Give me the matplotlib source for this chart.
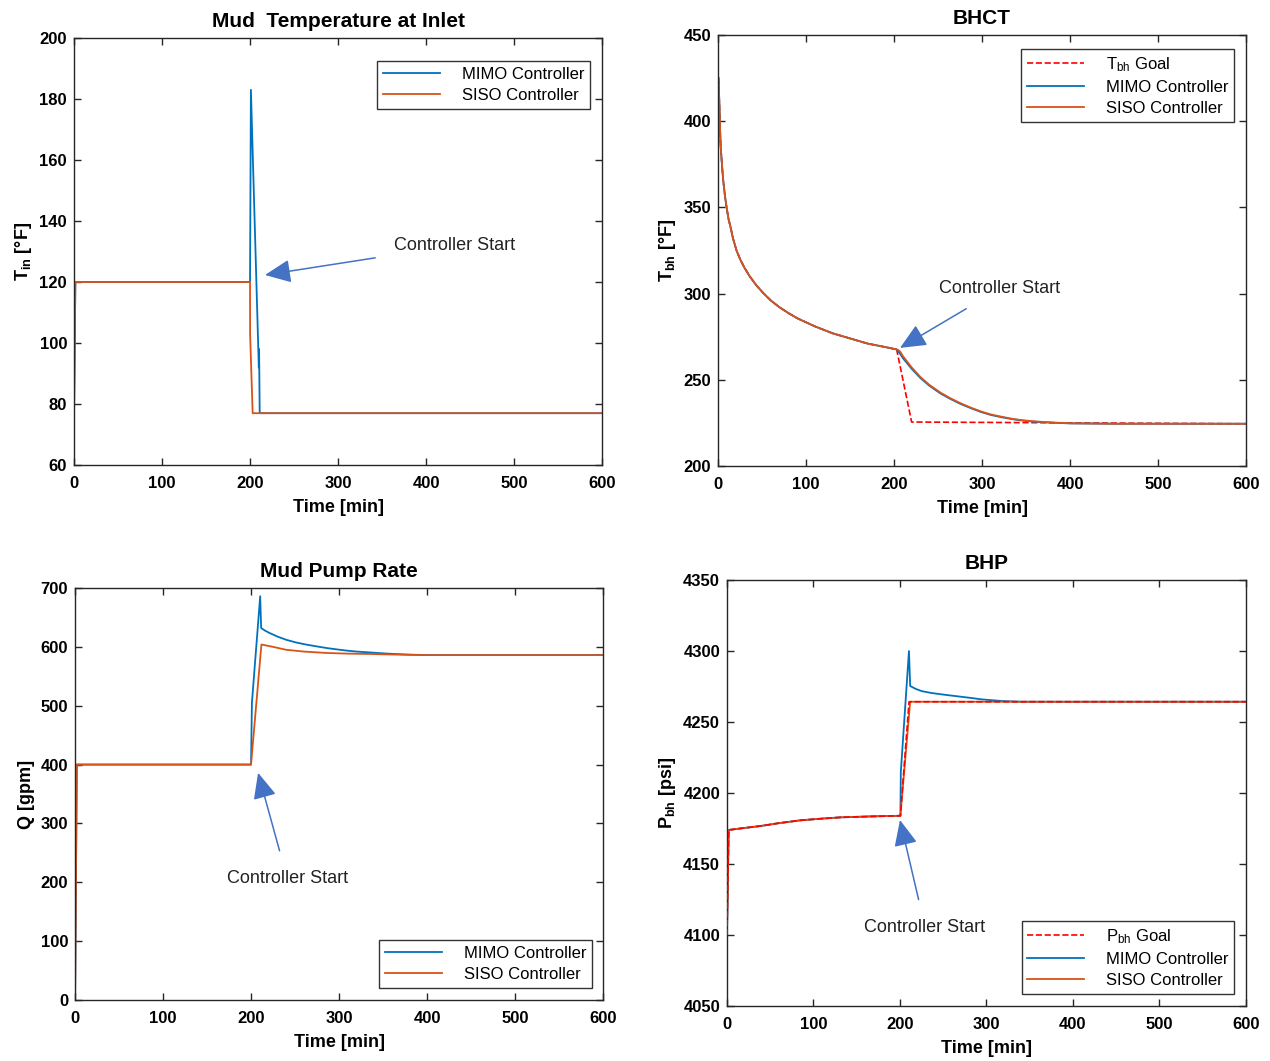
import numpy as np
import matplotlib
matplotlib.use('Agg')
import matplotlib.pyplot as plt

plt.rcParams['font.family'] = ['Liberation Sans', 'DejaVu Sans']
plt.rcParams['mathtext.fontset'] = 'custom'
plt.rcParams['mathtext.rm'] = 'Liberation Sans'
plt.rcParams['mathtext.bf'] = 'Liberation Sans:bold'
plt.rcParams['mathtext.it'] = 'Liberation Sans:italic'

BLUE = '#0072BD'
ORANGE = '#D95319'
ARROW = '#4472C4'

# Mud temperature at inlet [F]
tin_t_siso = [0, 1.5, 200, 200.1, 203, 600]
tin_siso = [77, 120, 120, 103, 77, 77]
tin_t_mimo = [0, 1.5, 200, 201, 210, 210.3, 211, 600]
tin_mimo = [77, 120, 120, 183, 92, 98, 77, 77]

# BHCT [F]
bhct_t_pre = [0.5, 1, 1.5, 2, 2.5, 3, 4, 5, 6, 8, 10, 12, 14, 17, 21, 25, 30, 36, 44, 52,
              60, 70, 80, 90, 110, 130, 150, 170, 190, 203]
bhct_pre = [425, 418, 410, 401, 392, 385, 378, 371, 365, 356, 349, 343, 339, 332, 325, 320,
            315, 310, 304.5, 300, 296, 292, 288.7, 285.7, 281, 277, 274, 271, 269, 267.6]
bhct_t_post = [205, 207, 210, 215, 220, 230, 240, 253, 264, 276, 288, 299, 310, 322, 334,
               345, 357, 368, 385, 400, 450, 600]
bhct_mimo_post = [266.4, 265.0, 262.6, 259.5, 256.4, 251.0, 246.6, 242.0, 238.9, 235.9,
                  233.4, 231.3, 229.6, 228.3, 227.2, 226.4, 225.8, 225.4, 225.0, 224.7,
                  224.5, 224.5]
bhct_siso_post = [267.2, 266.3, 263.8, 260.5, 257.2, 251.6, 247.1, 242.5, 239.3, 236.3,
                  233.7, 231.6, 229.9, 228.6, 227.4, 226.6, 226.0, 225.6, 225.1, 224.8,
                  224.5, 224.5]
goal_t_post = [203, 220, 600]
goal_post = [267.6, 225.5, 224.5]

# Mud pump rate [gpm]
q_t_siso = [0, 2, 200, 211.8, 225, 240, 260, 286, 310, 332, 360, 400, 600]
q_siso = [0, 400, 400, 604, 600, 595, 592, 589.6, 588.5, 588, 587, 586, 586]
q_t_mimo = [0, 2, 200, 201, 210.4, 211.5, 216, 221, 230, 240, 251, 263, 275, 286, 298, 309,
            320, 332, 355, 379, 400, 600]
q_mimo = [0, 400, 400, 505, 686, 632, 627.5, 623.6, 617.5, 612, 607.5, 603.8, 600.7, 598,
          595.6, 593.6, 592, 590.8, 588.5, 586.8, 586, 586]

# BHP [psi]
p_t_siso = [0, 2, 20, 39, 60, 85, 110, 132, 170, 200.5, 211.8, 600]
p_siso = [4100, 4174, 4175.4, 4176.8, 4178.8, 4180.8, 4182.0, 4182.9, 4183.6, 4184, 4264.3,
          4264.3]
p_t_mimo = [0, 2, 20, 39, 60, 85, 110, 132, 170, 200.5, 201, 210.4, 211.8, 218, 225, 236,
            248, 260, 271, 283, 294, 318, 340, 600]
p_mimo = [4100, 4174, 4175.4, 4176.8, 4178.8, 4180.8, 4182.0, 4182.9, 4183.6, 4184, 4215,
          4300, 4275.4, 4273.4, 4271.8, 4270.5, 4269.5, 4268.6, 4267.8, 4266.9, 4266,
          4264.8, 4264.3, 4264.3]
p_t_goal = [0, 2, 20, 39, 60, 85, 110, 132, 170, 200.5, 210.5, 600]
p_goal = [4100, 4174, 4175.4, 4176.8, 4178.8, 4180.8, 4182.0, 4182.9, 4183.6, 4184, 4264.3,
          4264.3]

xticks = [0, 100, 200, 300, 400, 500, 600]


def style_axes(ax, title, ylabel, ylim, yticks):
    ax.set_xlim(0, 600)
    ax.set_ylim(*ylim)
    ax.set_xticks(xticks)
    ax.set_yticks(yticks)
    ax.tick_params(direction='in', top=True, right=True, length=5, width=1,
                   labelsize=12, colors='#262626')
    ax.tick_params(axis='x', pad=8)
    ax.tick_params(axis='y', pad=5)
    for lab in ax.get_xticklabels() + ax.get_yticklabels():
        lab.set_fontweight('bold')
        lab.set_color('black')
    for s in ax.spines.values():
        s.set_linewidth(1.0)
        s.set_color('#262626')
    ax.set_title(title, fontsize=15, fontweight='bold', pad=8)
    ax.set_xlabel('Time [min]', fontsize=13, fontweight='bold', labelpad=6)
    ax.set_ylabel(ylabel, fontsize=13, fontweight='bold')


def legend(ax, loc, anchor):
    leg = ax.legend(loc=loc, bbox_to_anchor=anchor, borderaxespad=0, fancybox=False,
                    edgecolor='black', fontsize=12, handlelength=3.4, handletextpad=1.3,
                    labelspacing=0.38, borderpad=0.35)
    leg.get_frame().set_linewidth(1.0)
    return leg


def note(ax, xy, xytext):
    ax.annotate('Controller Start', xy=xy, xytext=xytext, fontsize=13, color='#222222',
                ha='center', va='center',
                arrowprops=dict(arrowstyle='-|>,head_length=1.0,head_width=0.45',
                                color=ARROW, lw=1.1, mutation_scale=16,
                                shrinkA=12, shrinkB=0))


fig = plt.figure(figsize=(12.7, 10.61), dpi=100)

# Mud temperature at inlet
ax1 = fig.add_axes([0.0583, 0.5617, 0.4157, 0.4025])
ax1.plot(tin_t_mimo, tin_mimo, color=BLUE, lw=1.3, label='MIMO Controller')
ax1.plot(tin_t_siso, tin_siso, color=ORANGE, lw=1.3, label='SISO Controller')
style_axes(ax1, 'Mud  Temperature at Inlet', r'T$_{\mathbf{in}}$ [°F]', (60, 200),
           [60, 80, 100, 120, 140, 160, 180, 200])
legend(ax1, 'upper right', (0.977, 0.946))
note(ax1, (217, 122.3), (433, 132))

# BHCT
ax2 = fig.add_axes([0.5654, 0.5608, 0.4157, 0.4062])
ax2.plot(bhct_t_pre + goal_t_post, bhct_pre + goal_post, 'r--', lw=1.2,
         label=r'T$_{\mathrm{bh}}$ Goal')
ax2.plot(bhct_t_pre + bhct_t_post, bhct_pre + bhct_mimo_post, color=BLUE, lw=1.3,
         label='MIMO Controller')
ax2.plot(bhct_t_pre + bhct_t_post, bhct_pre + bhct_siso_post, color=ORANGE, lw=1.3,
         label='SISO Controller')
style_axes(ax2, 'BHCT', r'T$_{\mathbf{bh}}$ [°F]', (200, 450), [200, 250, 300, 350, 400, 450])
legend(ax2, 'upper right', (0.977, 0.9675))
note(ax2, (206.8, 268.5), (320, 302.7))

# Mud pump rate
ax3 = fig.add_axes([0.0591, 0.0575, 0.4157, 0.3883])
ax3.plot(q_t_mimo, q_mimo, color=BLUE, lw=1.3, label='MIMO Controller')
ax3.plot(q_t_siso, q_siso, color=ORANGE, lw=1.3, label='SISO Controller')
style_axes(ax3, 'Mud Pump Rate', 'Q [gpm]', (0, 700), [0, 100, 200, 300, 400, 500, 600, 700])
legend(ax3, 'lower right', (0.979, 0.029))
note(ax3, (208, 386), (241, 207))

# BHP
ax4 = fig.add_axes([0.5724, 0.0518, 0.4087, 0.4015])
ax4.plot(p_t_goal, p_goal, 'r--', lw=1.2, label=r'P$_{\mathrm{bh}}$ Goal', zorder=3)
ax4.plot(p_t_mimo, p_mimo, color=BLUE, lw=1.3, label='MIMO Controller', zorder=2)
ax4.plot(p_t_siso, p_siso, color=ORANGE, lw=1.3, label='SISO Controller', zorder=2)
style_axes(ax4, 'BHP', r'P$_{\mathbf{bh}}$ [psi]', (4050, 4350),
           [4050, 4100, 4150, 4200, 4250, 4300, 4350])
legend(ax4, 'lower right', (0.977, 0.028))
note(ax4, (200, 4181), (229, 4105.6))

fig.savefig('out.png', dpi=100)
